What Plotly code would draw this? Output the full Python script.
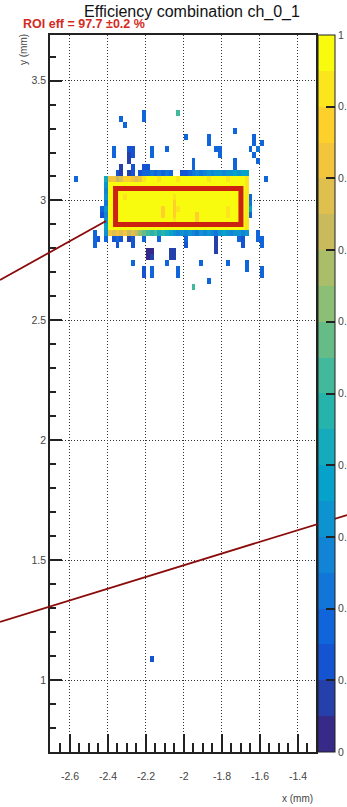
import numpy as np
import plotly.graph_objects as go

# ---------------- histogram binning (mm) ----------------
x_first_center = -2.69
x_bin = 0.02
n_x = 70
y_first_center = 0.7125
y_bin = 0.025
n_y = 120

# ---------------- efficiency map ----------------
# letters a..t = 20 colour levels (a = lowest, t = highest), '.' = empty bin
level_chars = "abcdefghijklmnopqrst"
grid_x_first = -2.59      # centre of first column of the grid
grid_y_top = 3.3875       # centre of first (top) row of the grid
grid_rows = [
    "",
    "..........|.........d|........k.",
    "..........|...d.....d",
    "..........|....d",
    "..........|..........|..........|..........|...d",
    "..........|..........|..........|d.....d...|........d",
    "..........|..........|..........|......d...|........d.|d",
    "..........|.d...cc...|.d...d....|........dd|.......d.e",
    "..........|.d...bc...|.d........|.........d|........d.",
    "..........|.....b....|..........|..d.......|...d.....d",
    "..........|...b..c..c|c.........|..d.......|...d",
    "..........|..cb.bc.cd|dededed..c|cdefefgfgg|fgghghh...",
    ".d.......i|qqoprrqpqs|tttsttttst|ttttttsttt|tstttts...|.d",
    ".........g|tttttttttt|tttttttttt|tttttttttt|tttttts",
    ".........f|tttttttttt|tttttttttt|tttttttttt|tttttts",
    ".........g|ttttsttttt|tttttttstt|tttttttttt|ttttttsd",
    ".........e|tttttttttt|tttttttrtt|tttttttttt|ttttttse",
    "........dg|tttttttttt|ttttrttrst|tttttttttt|tsttttsh",
    "........cf|tttttttttt|ttttrttrtt|tttrtttttt|tsttttsd",
    ".........g|tttttttttt|tttttttstt|tttrtttttt|tttttts",
    ".........h|tttttttttt|tttttttttt|tttttttttt|tttttts",
    "......d..g|qpqpqopoml|kjkijihgfg|fgfegfgfeg|hgfggfg..d",
    "......dc.d|.cdc.bc..d|...d......|d.......b.|....dc...d|d",
    "......d...|..c...c...|..........|c.......b.|.....c....|d",
    "..........|..........|aa....bb..|........b.",
    "..........|..........|ab....bb..",
    "..........|......d...|.....d....|....d.....|.d....d",
    "..........|.........c|.d......d.|..........|......d...|d",
    "..........|.........c|.d......d.|..........|..........|d",
    "..........|..........|..........|......d",
    "..........|..........|..........|..k",
    "",
]
isolated_x = [-2.17]
isolated_y = [1.0875]
isolated_eff = [0.125]

roi_x = [-2.36, -1.70]
roi_y = [2.90, 3.05]

x_ticks = [-2.6, -2.4, -2.2, -2.0, -1.8, -1.6, -1.4]
x_tick_labels = ["-2.6", "-2.4", "-2.2", "-2", "-1.8", "-1.6", "-1.4"]
y_ticks = [1.0, 1.5, 2.0, 2.5, 3.0, 3.5]
y_tick_labels = ["1", "1.5", "2", "2.5", "3", "3.5"]
cbar_ticks = [0.0, 0.1, 0.2, 0.3, 0.4, 0.5, 0.6, 0.7, 0.8, 0.9, 1.0]
cbar_labels = ["0", "0.1", "0.2", "0.3", "0.4", "0.5", "0.6", "0.7", "0.8", "0.9", "1"]

# ---------------- build z matrix ----------------
n_levels = len(level_chars)
z = np.full((n_y, n_x), np.nan)
for r, row in enumerate(grid_rows):
    row = row.replace("|", "").ljust(52, ".")
    yc = grid_y_top - r * y_bin
    iy = int(round((yc - y_first_center) / y_bin))
    for k, ch in enumerate(row):
        if ch in level_chars:
            xc = grid_x_first + k * x_bin
            ix = int(round((xc - x_first_center) / x_bin))
            z[iy, ix] = (level_chars.index(ch) + 0.5) / n_levels
for xv, yv, ev in zip(isolated_x, isolated_y, isolated_eff):
    ix = int(round((xv - x_first_center) / x_bin))
    iy = int(round((yv - y_first_center) / y_bin))
    z[iy, ix] = ev
z_list = [[None if np.isnan(v) else float(v) for v in row] for row in z]

# ---------------- ROOT kBird palette, 20 contour levels ----------------
bird_stops = [0.0, 0.125, 0.25, 0.375, 0.5, 0.625, 0.75, 0.875, 1.0]
bird_r = [0.2082, 0.0592, 0.0780, 0.0232, 0.1802, 0.5301, 0.8186, 0.9956, 0.9764]
bird_g = [0.1664, 0.3599, 0.5041, 0.6419, 0.7178, 0.7492, 0.7328, 0.7862, 0.9832]
bird_b = [0.5293, 0.8684, 0.8385, 0.7914, 0.6425, 0.4662, 0.3499, 0.1968, 0.0539]
colorscale = []
for i in range(n_levels):
    t = i / (n_levels - 1)
    c = "rgb(%d,%d,%d)" % tuple(int(round(255 * np.interp(t, bird_stops, ch)))
                                for ch in (bird_r, bird_g, bird_b))
    colorscale.append([i / n_levels, c])
    colorscale.append([(i + 1) / n_levels, c])

# ---------------- figure ----------------
W, H = 347, 807
L, R, T, B = 50, 31, 35, 55
pw, ph = W - L - R, H - T - B


def px_x(p):
    return (p - L) / pw


def px_y(p):
    return (H - B - p) / ph


fig = go.Figure()
fig.add_trace(go.Heatmap(
    z=z_list, x0=x_first_center, dx=x_bin, y0=y_first_center, dy=y_bin,
    zmin=0, zmax=1, colorscale=colorscale, hoverongaps=False,
    colorbar=dict(
        x=px_x(318), xanchor="left", xref="paper",
        y=0.5, yanchor="middle", len=1.0, lenmode="fraction",
        thickness=17, xpad=0, ypad=0,
        outlinewidth=1, outlinecolor="#222",
        tickmode="array", tickvals=cbar_ticks, ticktext=cbar_labels,
        ticks="inside", ticklen=9, tickwidth=2, tickcolor="#222",
        tickfont=dict(family="Liberation Sans, Arial", size=10.5, color="#444"),
    ),
))

fig.add_shape(type="rect", xref="x", yref="y",
              x0=roi_x[0], x1=roi_x[1], y0=roi_y[0], y1=roi_y[1],
              line=dict(color="#cc2211", width=5), layer="above")

# decorative dark-red lines drawn on the canvas
for (xa, ya, xb, yb) in [(0, 280, 106, 221), (0, 622, 347, 515)]:
    fig.add_shape(type="line", xref="paper", yref="paper",
                  x0=px_x(xa), y0=px_y(ya), x1=px_x(xb), y1=px_y(yb),
                  line=dict(color="#8b0a0a", width=1.8), layer="above")

tickfont = dict(family="Liberation Sans, Arial", size=10.5, color="#444")
grid_dash = "1px,2px"
fig.update_xaxes(
    range=[-2.705, -1.305], tickmode="array", tickvals=x_ticks, ticktext=x_tick_labels,
    ticks="inside", ticklen=18, tickwidth=1.5, tickcolor="#222",
    minor=dict(tickmode="linear", tick0=-2.6, dtick=0.05, ticks="inside",
               ticklen=9, tickwidth=1.5, tickcolor="#222", showgrid=False),
    showgrid=True, gridcolor="#333", griddash=grid_dash, gridwidth=1,
    showline=True, linecolor="#222", linewidth=1.5, mirror=True,
    zeroline=False, tickfont=tickfont, ticklabelstandoff=14,
    layer="above traces",
)
fig.update_yaxes(
    range=[0.70, 3.69], tickmode="array", tickvals=y_ticks, ticktext=y_tick_labels,
    ticks="inside", ticklen=12, tickwidth=1.5, tickcolor="#222",
    minor=dict(tickmode="linear", tick0=1.0, dtick=0.1, ticks="inside",
               ticklen=6, tickwidth=1.5, tickcolor="#222", showgrid=False),
    showgrid=True, gridcolor="#333", griddash=grid_dash, gridwidth=1,
    showline=True, linecolor="#222", linewidth=1.5, mirror=True,
    zeroline=False, tickfont=tickfont,
    layer="above traces",
)

fig.update_layout(
    width=W, height=H, margin=dict(l=L, r=R, t=T, b=B, pad=0, autoexpand=False),
    paper_bgcolor="white", plot_bgcolor="white",
    showlegend=False,
    title=dict(text="Efficiency combination ch_0_1", x=192 / W, xanchor="center",
               y=1 - 11 / H, yanchor="middle",
               font=dict(family="Liberation Sans, Arial", size=16, color="#111")),
    annotations=[
        dict(text="<b>ROI eff = 97.7 ±0.2 %</b>", xref="paper", yref="paper",
             x=px_x(21), y=px_y(24), xanchor="left", yanchor="middle", showarrow=False,
             font=dict(family="Liberation Sans, Arial", size=12.5, color="#d42a22")),
        dict(text="y (mm)", xref="paper", yref="paper", textangle=-90,
             x=px_x(23), y=px_y(50), xanchor="center", yanchor="middle", showarrow=False,
             font=dict(family="Liberation Sans, Arial", size=10, color="#444")),
        dict(text="x (mm)", xref="paper", yref="paper",
             x=px_x(315), y=px_y(798), xanchor="right", yanchor="middle", showarrow=False,
             font=dict(family="Liberation Sans, Arial", size=10, color="#444")),
    ],
)

fig.write_html("out.html")
